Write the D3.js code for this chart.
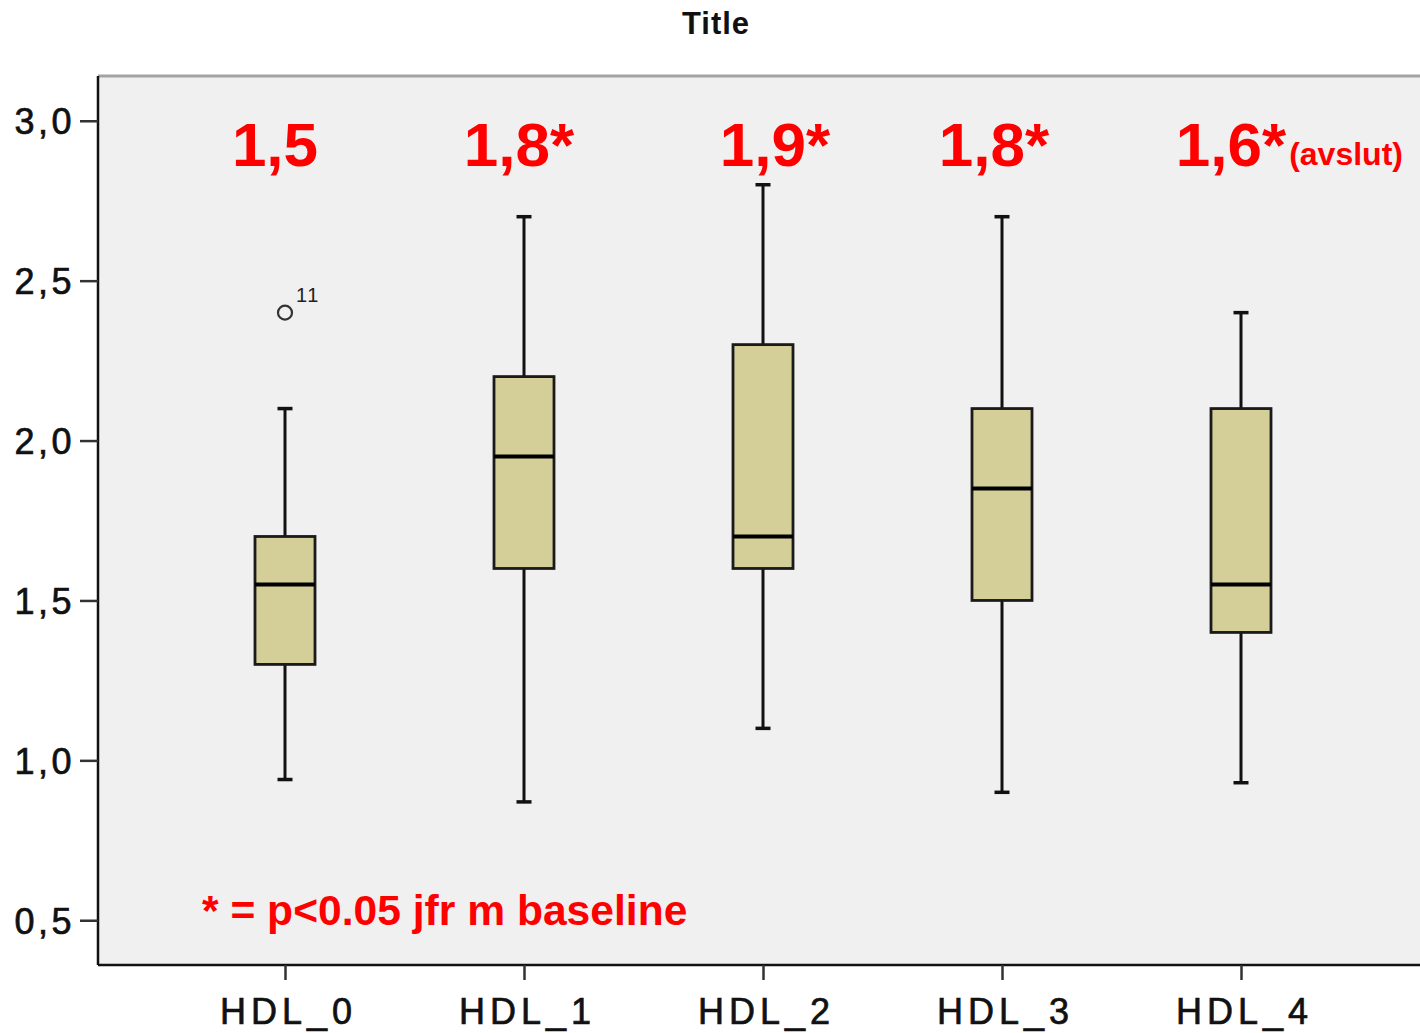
<!DOCTYPE html>
<html>
<head>
<meta charset="utf-8">
<script src="https://cdn.jsdelivr.net/npm/d3@7"></script>
<style>
  html, body { margin: 0; padding: 0; background: #ffffff; }
  svg { display: block; }
  text { font-family: "Liberation Sans", Arial, Helvetica, sans-serif; }
</style>
</head>
<body>
<svg id="chart" width="1420" height="1033"></svg>
<script>
// HDL measurements per visit (mmol/L)
const categories = ["HDL_0", "HDL_1", "HDL_2", "HDL_3", "HDL_4"];
const whiskerLow  = [0.94, 0.87, 1.10, 0.90, 0.93];
const quartile1   = [1.30, 1.60, 1.60, 1.50, 1.40];
const medians     = [1.55, 1.95, 1.70, 1.85, 1.55];
const quartile3   = [1.70, 2.20, 2.30, 2.10, 2.10];
const whiskerHigh = [2.10, 2.70, 2.80, 2.70, 2.40];

// outlier points: category, value, case id
const outlierCats = ["HDL_0"];
const outlierVals = [2.40];
const outlierIds  = ["11"];

// mean values printed above each box
const meanLabels   = ["1,5", "1,8*", "1,9*", "1,8*", "1,6*"];
const meanSuffixes = ["", "", "", "", "(avslut)"];
const yTicks = [0.5, 1.0, 1.5, 2.0, 2.5, 3.0];

const svg = d3.select("#chart");
const plot = { left: 98, right: 1422, top: 76, bottom: 965 };

const y = d3.scaleLinear().domain([0.36, 3.14]).range([plot.bottom, plot.top]);
const x = d3.scalePoint().domain(categories).range([285, 1241]);

const boxes = categories.map((c, i) => ({
  cat: c, lo: whiskerLow[i], q1: quartile1[i], med: medians[i],
  q3: quartile3[i], hi: whiskerHigh[i], label: meanLabels[i], suffix: meanSuffixes[i]
}));

// plot background
svg.append("rect")
  .attr("x", plot.left).attr("y", plot.top)
  .attr("width", plot.right - plot.left).attr("height", plot.bottom - plot.top)
  .attr("fill", "#f0f0f0");

// top frame line
svg.append("line")
  .attr("x1", plot.left).attr("x2", plot.right)
  .attr("y1", plot.top).attr("y2", plot.top)
  .attr("stroke", "#a3a3a3").attr("stroke-width", 3);

// title
svg.append("text")
  .attr("x", 716).attr("y", 34)
  .attr("text-anchor", "middle")
  .attr("font-size", 31).attr("font-weight", "bold")
  .attr("letter-spacing", 1)
  .attr("fill", "#111")
  .text("Title");

// y axis
const yAxis = svg.append("g")
  .attr("transform", `translate(${plot.left},0)`)
  .call(d3.axisLeft(y).tickValues(yTicks).tickSize(18).tickPadding(5)
    .tickFormat(d => d3.format(".1f")(d).replace(".", ",")));
yAxis.select(".domain").attr("stroke", "#111").attr("stroke-width", 2.5)
  .attr("d", `M0,${plot.top}V${plot.bottom}`);
yAxis.selectAll(".tick line").attr("stroke", "#333").attr("stroke-width", 2.5);
yAxis.selectAll(".tick text")
  .attr("font-size", 36).attr("fill", "#111")
  .attr("stroke", "#111").attr("stroke-width", 0.7)
  .attr("letter-spacing", 3.5)
  .attr("dy", "0.36em")
  .attr("font-family", "\"Liberation Sans\", Arial, sans-serif");

// x axis
const xAxis = svg.append("g")
  .attr("transform", `translate(0,${plot.bottom})`)
  .call(d3.axisBottom(x).tickSize(15).tickPadding(18));
xAxis.select(".domain").attr("stroke", "#111").attr("stroke-width", 2.5)
  .attr("d", `M${plot.left},0H${plot.right}`);
xAxis.selectAll(".tick line").attr("stroke", "#333").attr("stroke-width", 2.5);
xAxis.selectAll(".tick text")
  .attr("font-size", 36).attr("fill", "#111")
  .attr("stroke", "#111").attr("stroke-width", 0.7)
  .attr("letter-spacing", 5)
  .attr("dx", 3)
  .attr("font-family", "\"Liberation Sans\", Arial, sans-serif");

// box plots
const boxW = 60, capW = 15;
const g = svg.append("g");
const bx = g.selectAll("g.box").data(boxes).join("g").attr("class", "box");

// whiskers
bx.append("line")
  .attr("x1", d => x(d.cat)).attr("x2", d => x(d.cat))
  .attr("y1", d => y(d.q3)).attr("y2", d => y(d.hi))
  .attr("stroke", "#111").attr("stroke-width", 3);
bx.append("line")
  .attr("x1", d => x(d.cat)).attr("x2", d => x(d.cat))
  .attr("y1", d => y(d.q1)).attr("y2", d => y(d.lo))
  .attr("stroke", "#111").attr("stroke-width", 3);
// caps
bx.append("line")
  .attr("x1", d => x(d.cat) - capW / 2).attr("x2", d => x(d.cat) + capW / 2)
  .attr("y1", d => y(d.hi)).attr("y2", d => y(d.hi))
  .attr("stroke", "#111").attr("stroke-width", 3.5);
bx.append("line")
  .attr("x1", d => x(d.cat) - capW / 2).attr("x2", d => x(d.cat) + capW / 2)
  .attr("y1", d => y(d.lo)).attr("y2", d => y(d.lo))
  .attr("stroke", "#111").attr("stroke-width", 3.5);
// box
bx.append("rect")
  .attr("x", d => x(d.cat) - boxW / 2).attr("width", boxW)
  .attr("y", d => y(d.q3)).attr("height", d => y(d.q1) - y(d.q3))
  .attr("fill", "#d4cf98").attr("stroke", "#1a1a1a").attr("stroke-width", 2.8);
// median
bx.append("line")
  .attr("x1", d => x(d.cat) - boxW / 2).attr("x2", d => x(d.cat) + boxW / 2)
  .attr("y1", d => y(d.med)).attr("y2", d => y(d.med))
  .attr("stroke", "#000").attr("stroke-width", 4);

// outliers
outlierCats.forEach((c, i) => {
  g.append("circle")
    .attr("cx", x(c)).attr("cy", y(outlierVals[i])).attr("r", 7)
    .attr("fill", "none").attr("stroke", "#333").attr("stroke-width", 2.2);
  g.append("text")
    .attr("x", x(c) + 11).attr("y", y(outlierVals[i]) - 11)
    .attr("font-size", 20).attr("fill", "#222")
    .attr("letter-spacing", 1.5)
    .text(outlierIds[i]);
});

// mean labels above boxes
const labelShift = [-10, -5, 12, -8, -10];
boxes.forEach((d, i) => {
  const t = svg.append("text")
    .attr("x", x(d.cat) + labelShift[i])
    .attr("y", 166)
    .attr("text-anchor", "middle")
    .attr("font-size", 62).attr("font-weight", "bold")
    .attr("fill", "#ff0000")
    .text(d.label);
  if (d.suffix) {
    t.attr("text-anchor", "start");
    const w = t.node().getComputedTextLength();
    t.attr("x", x(d.cat) + labelShift[i] - w / 2);
    svg.append("text")
      .attr("x", x(d.cat) + labelShift[i] + w / 2 + 3)
      .attr("y", 165)
      .attr("font-size", 32).attr("font-weight", "bold")
      .attr("fill", "#ff0000")
      .text(d.suffix);
  }
});

// significance note
svg.append("text")
  .attr("x", 202).attr("y", 925)
  .attr("font-size", 42.6).attr("font-weight", "bold")
  .attr("fill", "#ff0000")
  .text("* = p<0.05 jfr m baseline");
</script>
</body>
</html>
